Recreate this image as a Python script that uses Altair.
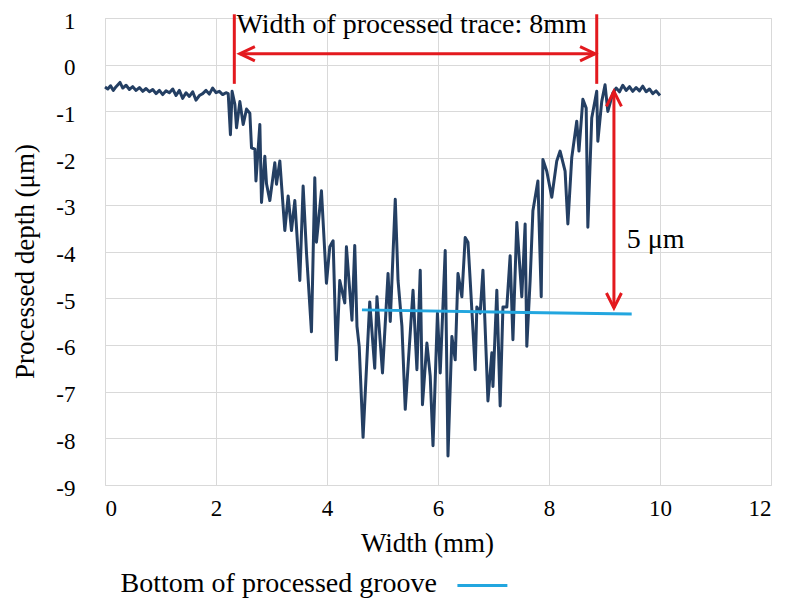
import altair as alt
import pandas as pd

# ---- profile data (width in mm, processed depth in µm) ----
x_mm = [0.00, 0.05, 0.10, 0.15, 0.20, 0.27, 0.32, 0.38, 0.44, 0.50, 0.56, 0.62, 0.68, 0.74, 0.80,
        0.86, 0.92, 0.98, 1.04, 1.10, 1.16, 1.22, 1.28, 1.34, 1.40, 1.46, 1.52, 1.58, 1.64, 1.70,
        1.76, 1.82, 1.88, 1.94, 2.00, 2.06, 2.12, 2.18,
        2.22, 2.26, 2.29, 2.34, 2.37, 2.43, 2.49, 2.55, 2.61, 2.64, 2.70, 2.72, 2.79, 2.82, 2.88,
        2.91, 2.97, 3.06, 3.09, 3.15, 3.24, 3.30, 3.36, 3.42, 3.51, 3.57, 3.63, 3.72, 3.78, 3.81,
        3.90, 3.99, 4.05, 4.11, 4.17, 4.23, 4.32, 4.35, 4.45, 4.50, 4.54, 4.58, 4.65, 4.77, 4.86,
        4.90, 5.00, 5.10, 5.14, 5.23, 5.28, 5.35, 5.41, 5.46, 5.55, 5.62, 5.68, 5.72, 5.80, 5.86,
        5.91, 5.99, 6.04, 6.13, 6.18, 6.25, 6.31, 6.36, 6.43, 6.49, 6.54, 6.58, 6.63, 6.67, 6.70,
        6.76, 6.81, 6.90, 6.97, 6.99, 7.06, 7.12, 7.17, 7.24, 7.30, 7.35, 7.42, 7.51, 7.57, 7.60,
        7.66, 7.71, 7.80, 7.86, 7.89, 7.96, 8.05, 8.14, 8.20, 8.29, 8.34, 8.41, 8.50, 8.54, 8.61,
        8.67, 8.70, 8.77, 8.86, 8.88, 8.95, 9.01, 9.06, 9.15,
        9.21, 9.27, 9.33, 9.39, 9.45, 9.51, 9.57, 9.63, 9.69, 9.75, 9.81, 9.87, 9.93, 10.00]
depth = [-0.48, -0.52, -0.45, -0.55, -0.47, -0.38, -0.50, -0.44, -0.53, -0.47, -0.55, -0.49, -0.57,
         -0.51, -0.58, -0.53, -0.62, -0.55, -0.64, -0.56, -0.60, -0.52, -0.66, -0.55, -0.72, -0.60,
         -0.68, -0.58, -0.76, -0.66, -0.62, -0.55, -0.63, -0.50, -0.60, -0.57, -0.64, -0.60,
         -0.62, -1.50, -0.57, -0.85, -1.35, -0.79, -1.28, -0.95, -1.04, -1.78, -1.81, -2.49, -1.28,
         -2.95, -1.96, -2.55, -2.91, -2.10, -2.56, -2.06, -3.55, -2.81, -3.55, -2.91, -4.62, -2.60,
         -4.02, -5.72, -2.42, -3.80, -2.70, -4.68, -3.90, -3.77, -6.32, -4.62, -5.10, -3.90, -5.47,
         -3.87, -5.60, -6.03, -7.98, -5.08, -6.50, -4.97, -6.60, -4.47, -5.50, -2.88, -4.62, -5.60,
         -7.38, -6.46, -4.83, -6.53, -4.40, -7.28, -5.96, -6.67, -8.16, -5.32, -6.60, -3.98, -8.38,
         -5.82, -6.32, -4.47, -4.97, -3.70, -3.80, -4.62, -5.68, -6.53, -5.19, -5.32, -4.40, -7.20,
         -6.17, -6.89, -4.83, -7.31, -5.19, -5.19, -4.09, -5.89, -3.38, -4.97, -3.41, -6.03, -4.62,
         -3.13, -2.49, -4.97, -2.03, -2.28, -2.84, -2.06, -1.85, -2.28, -3.41, -1.99, -1.21, -1.85,
         -0.74, -0.93, -3.48, -1.14, -0.57, -1.64, -0.79, -0.43, -1.00, -0.61,
         -0.50, -0.58, -0.44, -0.55, -0.47, -0.57, -0.49, -0.56, -0.46, -0.58, -0.52, -0.62, -0.56,
         -0.66]

# bottom of processed groove (cyan line)
groove_x = [4.63, 9.49]
groove_y = [-5.25, -5.34]

x_ticks = [0, 2, 4, 6, 8, 10, 12]
y_ticks = [1, 0, -1, -2, -3, -4, -5, -6, -7, -8, -9]

trace_label = "Width of processed trace: 8mm"
depth_label = "5 μm"
legend_label = "Bottom of processed groove"

FONT = "Liberation Serif"
NAVY = "#243f63"
RED = "#e3191e"
CYAN = "#22a6df"

xs = alt.Scale(domain=[0, 12], nice=False, zero=False)
ys = alt.Scale(domain=[-9, 1], nice=False, zero=False)

profile = pd.DataFrame({"x": x_mm, "y": depth})
base_x = alt.X("x:Q", scale=xs, axis=alt.Axis(
    values=x_ticks, title="Width (mm)", labelPadding=12,
    labelExpr="'' + datum.value",
    titleX=322, titleY=58, titleBaseline="middle"))
base_y = alt.Y("y:Q", scale=ys, axis=alt.Axis(
    values=y_ticks, title="Processed depth (μm)", labelPadding=30,
    labelExpr="'' + datum.value", labelOffset=3,
    titleX=-80, titleY=243, titleBaseline="middle"))

line = alt.Chart(profile).mark_line(color=NAVY, strokeWidth=3, strokeJoin="round").encode(
    x=base_x, y=base_y)

groove = alt.Chart(pd.DataFrame({"x": groove_x, "y": groove_y})).mark_line(
    color=CYAN, strokeWidth=3).encode(x="x:Q", y="y:Q")

# red annotation segments
segs = pd.DataFrame({
    "x": [2.33, 8.86, 2.43, 9.17],
    "x2": [2.33, 8.86, 8.83, 9.17],
    "y": [1.08, 1.08, 0.235, -0.57],
    "y2": [-0.41, -0.41, 0.235, -5.21],
})
red_rules = alt.Chart(segs).mark_rule(color=RED, strokeWidth=3).encode(
    x="x:Q", x2="x2", y="y:Q", y2="y2")

heads = pd.DataFrame({
    "x": [2.43, 8.83, 9.17, 9.17],
    "y": [0.235, 0.235, -0.57, -5.21],
    "dir": ["left", "right", "up", "down"],
})
paths = {
    "left": "M 1 -0.47 L 0 0 L 1 0.47",
    "right": "M -1 -0.47 L 0 0 L -1 0.47",
    "up": "M -0.5 1 L 0 0 L 0.5 1",
    "down": "M -0.5 -1 L 0 0 L 0.5 -1",
}
head_layers = []
for d, p in paths.items():
    head_layers.append(
        alt.Chart(heads[heads["dir"] == d]).mark_point(
            shape=p, filled=False, stroke=RED, strokeWidth=3, size=900, opacity=1
        ).encode(x="x:Q", y="y:Q"))

texts = pd.DataFrame({
    "x": [2.37, 9.40, 0.28],
    "y": [0.86, -3.75, -11.12],
    "t": [trace_label, depth_label, legend_label],
})
text_layer = alt.Chart(texts).mark_text(
    font=FONT, fontSize=28, color="black", align="left", baseline="middle"
).encode(x="x:Q", y="y:Q", text="t:N")

legend_line = alt.Chart(pd.DataFrame({"x": [6.35], "x2": [7.25], "y": [-11.15]})).mark_rule(
    color=CYAN, strokeWidth=3).encode(x="x:Q", x2="x2", y="y:Q")

chart = alt.layer(line, groove, red_rules, *head_layers, text_layer, legend_line).properties(
    width=666, height=467,
    autosize=alt.AutoSizeParams(type="none"),
    padding={"left": 97, "top": 10, "right": 11, "bottom": 116},
).configure_view(stroke="transparent").configure(background="white").configure_axis(
    grid=True, gridColor="#d9d9d9", domain=False, ticks=False,
    labelFont=FONT, labelFontSize=23, labelColor="black",
    titleFont=FONT, titleFontSize=27, titleFontWeight="normal", titleColor="black",
)

chart.save("out.html", embed_options={"renderer": "svg", "actions": False})
